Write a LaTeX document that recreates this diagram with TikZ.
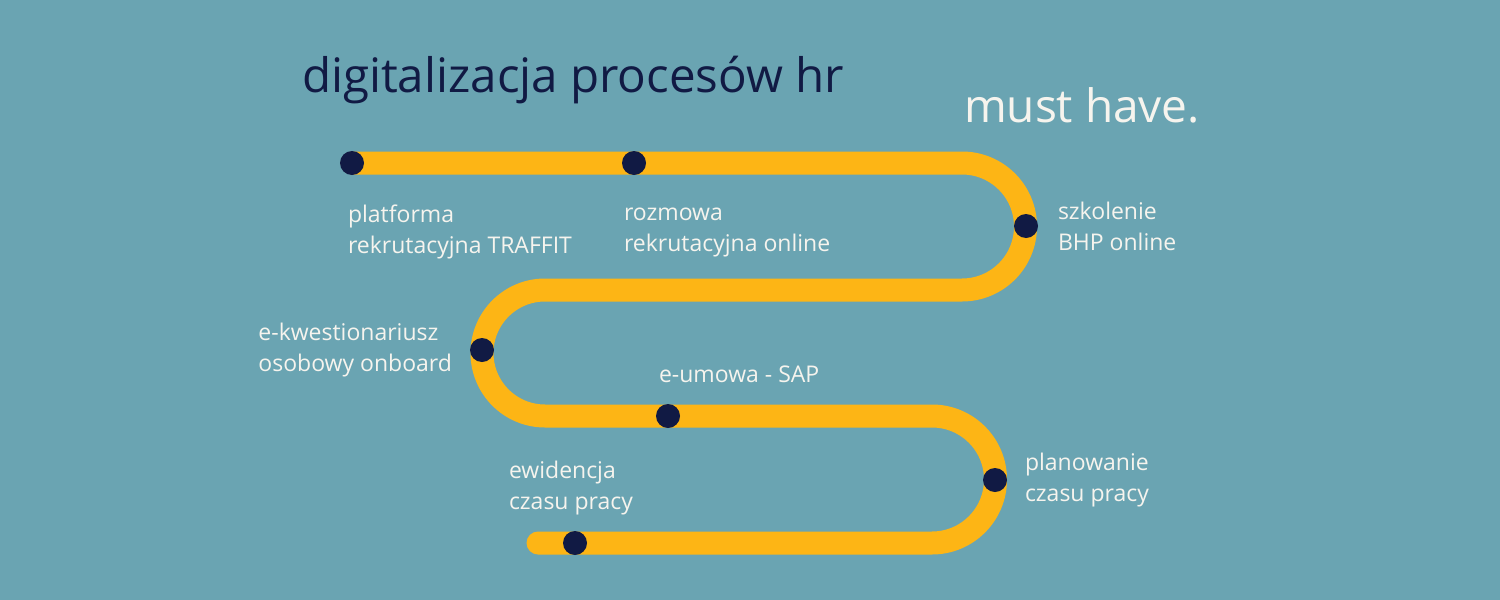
\documentclass[tikz,border=0pt]{standalone}
\usepackage{fontspec}
\setmainfont{Open Sans}
\usepackage{tikz}
\usetikzlibrary{positioning}

\definecolor{bgteal}{HTML}{6AA4B2}
\definecolor{trackyellow}{HTML}{FDB515}
\definecolor{navy}{HTML}{111A44}
\definecolor{offwhite}{HTML}{F6F4EE}

\begin{document}
\begin{tikzpicture}[
			x=1pt, y=-1pt,
			every node/.style={
				inner sep=0pt,
				outer sep=0pt
			},
			dot/.style={circle, fill=navy, minimum size=24pt},
			lbl/.style={align=left, text=offwhite, font=\fontsize{23}{31}\selectfont},
			track/.style={trackyellow, line width=23pt, line cap=round}
			]
			
			% background
			\fill[bgteal] (0,0) rectangle (1500,600);
			\useasboundingbox (0,0) rectangle (1500,600);
			
			% Headings
			\node[anchor=base west, text=navy, font=\fontsize{47.5}{47.5}\selectfont] (title) at (302,92) {digitalizacja procesów hr};
			\node[anchor=base west, text=offwhite, font=\fontsize{46}{46}\selectfont] (must) at (964,122) {must have.};
			
			% Track
			\draw[track] (352,163) -- (962,163)
				arc[start angle=-90, end angle=90, radius=63.5] -- (545,290)
				arc[start angle=270, end angle=90, radius=63] -- (932,416)
				arc[start angle=-90, end angle=90, radius=63.5] -- (538,543);
			
			% Stops
			\node[dot] (d1) at (352,163) {};
			\node[dot] (d2) at (634,163) {};
			\node[dot] (d3) at (1026,226) {};
			\node[dot] (d4) at (482,350) {};
			\node[dot] (d5) at (668,416) {};
			\node[dot] (d6) at (995,480) {};
			\node[dot] (d7) at (575,543) {};
			
			% Labels
			\node[lbl, anchor=west] (platforma) at (348,232) {platforma\\rekrutacyjna TRAFFIT};
			\node[lbl, anchor=west] (rozmowa) at (624,232) {rozmowa\\rekrutacyjna online};
			\node[lbl, right=20pt of d3] (szkolenie) {szkolenie\\BHP online};
			\node[lbl, left=18pt of d4] (kwestionariusz) {e-kwestionariusz\\osobowy onboard};
			\node[lbl, anchor=west] (umowa) at (659,374) {e-umowa - SAP};
			\node[lbl, right=18pt of d6] (planowanie) {planowanie\\czasu pracy};
			\node[lbl, anchor=west] (ewidencja) at (509,488) {ewidencja\\czasu pracy};
			
		\end{tikzpicture}
\end{document}
